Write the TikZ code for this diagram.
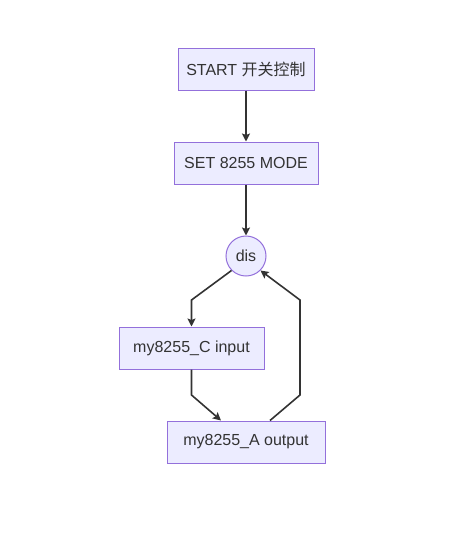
\documentclass[tikz,border=0pt]{standalone}
\usepackage{fontspec}
\setmainfont{Liberation Sans}
\newfontfamily\cjk{Noto Sans CJK SC}
\usetikzlibrary{arrows.meta}
\definecolor{boxfill}{HTML}{ECECFF}
\definecolor{boxline}{HTML}{9370DB}
\definecolor{edge}{HTML}{333333}
\begin{document}
\begin{tikzpicture}[x=1pt,y=-1pt,
  box/.style={draw=boxline,fill=boxfill,line width=1pt,minimum height=42pt,inner sep=0pt,text=edge,font=\fontsize{16}{19}\selectfont},
  circ/.style={circle,draw=boxline,fill=boxfill,line width=1pt,minimum size=40pt,inner sep=0pt,text=edge,font=\fontsize{16}{19}\selectfont},
  conn/.style={draw=edge,line width=1.6pt,-{Stealth[length=8pt,width=8pt,inset=1.5pt]}}]
\useasboundingbox (0,0) rectangle (462,547);
\node[box,minimum width=136pt] (start) at (246,69) {START {\cjk 开关控制}};
\node[box,minimum width=144pt] (set) at (246,163) {SET 8255 MODE};
\node[circ] (dis) at (246,256) {dis};
\node[box,minimum width=145pt] (cin) at (191.5,348) {my8255\_C input};
\node[box,minimum width=158pt] (aout) at (246,442) {my8255\_A output};
\coordinate (b1) at (191.5,300);
\coordinate (b2) at (191.5,395);
\coordinate (b3) at (300,395);
\coordinate (b4) at (300,300);
\draw[conn] (start) -- (set);
\draw[conn] (set) -- (dis);
\draw[conn] (dis.south west) -- (b1) -- (cin.north);
\draw[conn] (cin.south) -- (b2) -- (aout.north -| 221,0);
\draw[conn] (aout.north -| 270,0) -- (b3) -- (b4) -- (dis.south east);
\end{tikzpicture}
\end{document}
